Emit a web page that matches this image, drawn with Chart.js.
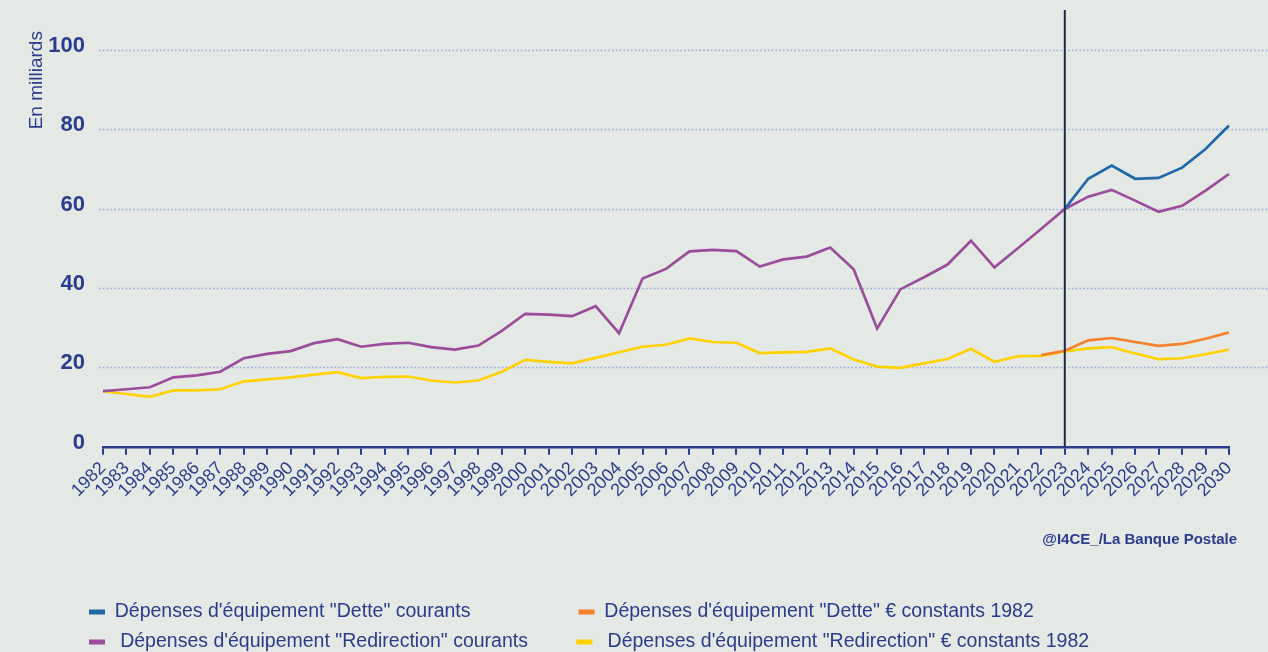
<!DOCTYPE html>
<html>
<head>
<meta charset="utf-8">
<script src="https://cdn.jsdelivr.net/npm/chart.js@4/dist/chart.umd.min.js"></script>
<style>
  html, body { margin: 0; padding: 0; background: #e4e9e5; }
  #wrap { width: 1268px; height: 652px; }
</style>
</head>
<body>
<div id="wrap"><canvas id="chart"></canvas></div>
<script>
// données (milliards d'euros)
const years = ['1982','1983','1984','1985','1986','1987','1988','1989','1990','1991',
  '1992','1993','1994','1995','1996','1997','1998','1999','2000','2001',
  '2002','2003','2004','2005','2006','2007','2008','2009','2010','2011',
  '2012','2013','2014','2015','2016','2017','2018','2019','2020','2021',
  '2022','2023','2024','2025','2026','2027','2028','2029','2030'];

const redirCourants = [14.0, 14.5, 15.0, 17.5, 18.0, 18.9, 22.3, 23.4, 24.1, 26.1,
  27.1, 25.2, 25.9, 26.2, 25.1, 24.5, 25.5, 29.2, 33.5, 33.3,
  32.9, 35.4, 28.6, 42.4, 44.8, 49.2, 49.6, 49.3, 45.4, 47.2,
  47.9, 50.2, 44.7, 29.8, 39.7, 42.7, 45.9, 51.9, 45.2, 50.0,
  54.9, 59.9, 63.0, 64.7, 62.0, 59.2, 60.7, 64.5, 68.7];

const redirConstants = [14.0, 13.3, 12.6, 14.2, 14.2, 14.5, 16.5, 17.0, 17.5, 18.2,
  18.8, 17.3, 17.6, 17.7, 16.7, 16.2, 16.7, 18.9, 21.9, 21.4,
  21.0, 22.4, 23.8, 25.2, 25.7, 27.3, 26.4, 26.2, 23.6, 23.8,
  23.9, 24.8, 22.0, 20.2, 19.9, 21.0, 22.1, 24.7, 21.4, 22.8,
  22.9, 24.0, 24.8, 25.1, 23.5, 22.1, 22.3, 23.3, 24.5];

// scénario "Dette" : seulement à partir de la bifurcation
const detteCourants = [...Array(41).fill(null),
  59.9, 67.5, 70.8, 67.5, 67.7, 70.3, 75.0, 80.9];

const detteConstants = [...Array(40).fill(null),
  23.1, 24.2, 26.8, 27.4, 26.4, 25.4, 25.9, 27.2, 28.8];

const yTicks = [0, 20, 40, 60, 80, 100];
const splitYear = '2023';

const seriesNames = [
  'Dépenses d\'équipement "Dette" courants',
  'Dépenses d\'équipement "Dette" € constants 1982',
  ' Dépenses d\'équipement "Redirection" courants',
  ' Dépenses d\'équipement "Redirection" € constants 1982'
];

const NAVY = '#2a3c8e';
const FONT = '"Liberation Sans", Arial, Helvetica, sans-serif';
Chart.defaults.font.family = FONT;
Chart.defaults.color = NAVY;

const legendSize = 19.5;
const measureCtx = document.createElement('canvas').getContext('2d');
function padLabel(text, width) {
  measureCtx.font = legendSize + 'px ' + FONT;
  let t = text;
  while (measureCtx.measureText(t).width < width) t += ' ';
  return t;
}

// pointillés horizontaux, jusqu'au bord droit
const dottedGrid = {
  id: 'dottedGrid',
  beforeDatasetsDraw(chart) {
    const {ctx, chartArea, scales: {y}} = chart;
    ctx.save();
    ctx.strokeStyle = '#95aadf';
    ctx.lineWidth = 1.6;
    ctx.setLineDash([1.6, 2.2]);
    y.ticks.forEach(t => {
      if (t.value === 0) return;
      const py = Math.round(y.getPixelForValue(t.value)) + 0.5;
      ctx.beginPath();
      ctx.moveTo(chartArea.left - 4, py);
      ctx.lineTo(chart.width, py);
      ctx.stroke();
    });
    ctx.restore();
  }
};

// trait vertical 2023
const splitLine = {
  id: 'splitLine',
  afterDatasetsDraw(chart) {
    const {ctx, scales: {x, y}} = chart;
    const px = x.getPixelForValue(years.indexOf(splitYear));
    ctx.save();
    ctx.strokeStyle = '#1d2b48';
    ctx.lineWidth = 2;
    ctx.beginPath();
    ctx.moveTo(px, y.getPixelForValue(y.max));
    ctx.lineTo(px, y.getPixelForValue(0));
    ctx.stroke();
    ctx.restore();
  }
};

// décale la légende vers la droite
const legendOffset = {
  id: 'legendOffset',
  afterLayout(chart) {
    chart.legend.left += 60.5;
    chart.legend.right += 60.5;
  }
};

const ctx = document.getElementById('chart');
new Chart(ctx, {
  type: 'line',
  data: {
    labels: years,
    datasets: [
      { label: seriesNames[0], data: detteCourants, borderColor: '#2068a8', backgroundColor: '#2068a8' },
      { label: seriesNames[1], data: detteConstants, borderColor: '#f5822a', backgroundColor: '#f5822a' },
      { label: seriesNames[2], data: redirCourants, borderColor: '#9b4d9c', backgroundColor: '#9b4d9c' },
      { label: seriesNames[3], data: redirConstants, borderColor: '#ffd100', backgroundColor: '#ffd100' }
    ]
  },
  options: {
    responsive: true,
    maintainAspectRatio: false,
    animation: false,
    layout: { padding: { left: 18, right: 31, top: 10, bottom: -9.75 } },
    elements: {
      line: { borderWidth: 2.7, tension: 0 },
      point: { radius: 0 }
    },
    scales: {
      x: {
        grid: { display: true, drawOnChartArea: false, drawTicks: true, tickLength: 8, color: NAVY, lineWidth: 2 },
        border: { display: true, color: NAVY, width: 2.5 },
        ticks: { autoSkip: false, maxRotation: 45, minRotation: 45, padding: 3, color: NAVY, font: { size: 18 } },
        afterFit: s => { s.paddingRight = 39; }
      },
      y: {
        min: 0,
        max: 110,
        afterBuildTicks: s => { s.ticks = yTicks.map(v => ({ value: v })); },
        afterFit: s => { s.width = 85; s.paddingTop = 0; s.paddingBottom = 0; },
        grid: { display: false, drawTicks: false },
        border: { display: false },
        ticks: { padding: 18, labelOffset: -4, color: NAVY, font: { size: 22, weight: 'bold' } },
        title: {
          display: true,
          text: 'En milliards    ',
          align: 'end',
          color: NAVY,
          font: { size: 19 },
          padding: { top: 7, bottom: 1 }
        }
      }
    },
    plugins: {
      tooltip: { enabled: false },
      title: {
        display: true,
        text: '@I4CE_/La Banque Postale',
        position: 'bottom',
        align: 'end',
        weight: 500,
        color: NAVY,
        font: { size: 15, weight: 'bold' },
        padding: { top: 26.6, bottom: 42.75 }
      },
      legend: {
        position: 'bottom',
        align: 'start',
        labels: {
          color: NAVY,
          font: { size: legendSize },
          boxWidth: 16,
          boxHeight: 5,
          padding: 10.5,
          generateLabels(chart) {
            const items = Chart.defaults.plugins.legend.labels.generateLabels(chart);
            items.forEach((it, i) => {
              it.lineWidth = 0;
              if (i % 2 === 0) it.text = padLabel(it.text, 448);
            });
            return items;
          }
        }
      }
    }
  },
  plugins: [dottedGrid, splitLine, legendOffset]
});
</script>
</body>
</html>
